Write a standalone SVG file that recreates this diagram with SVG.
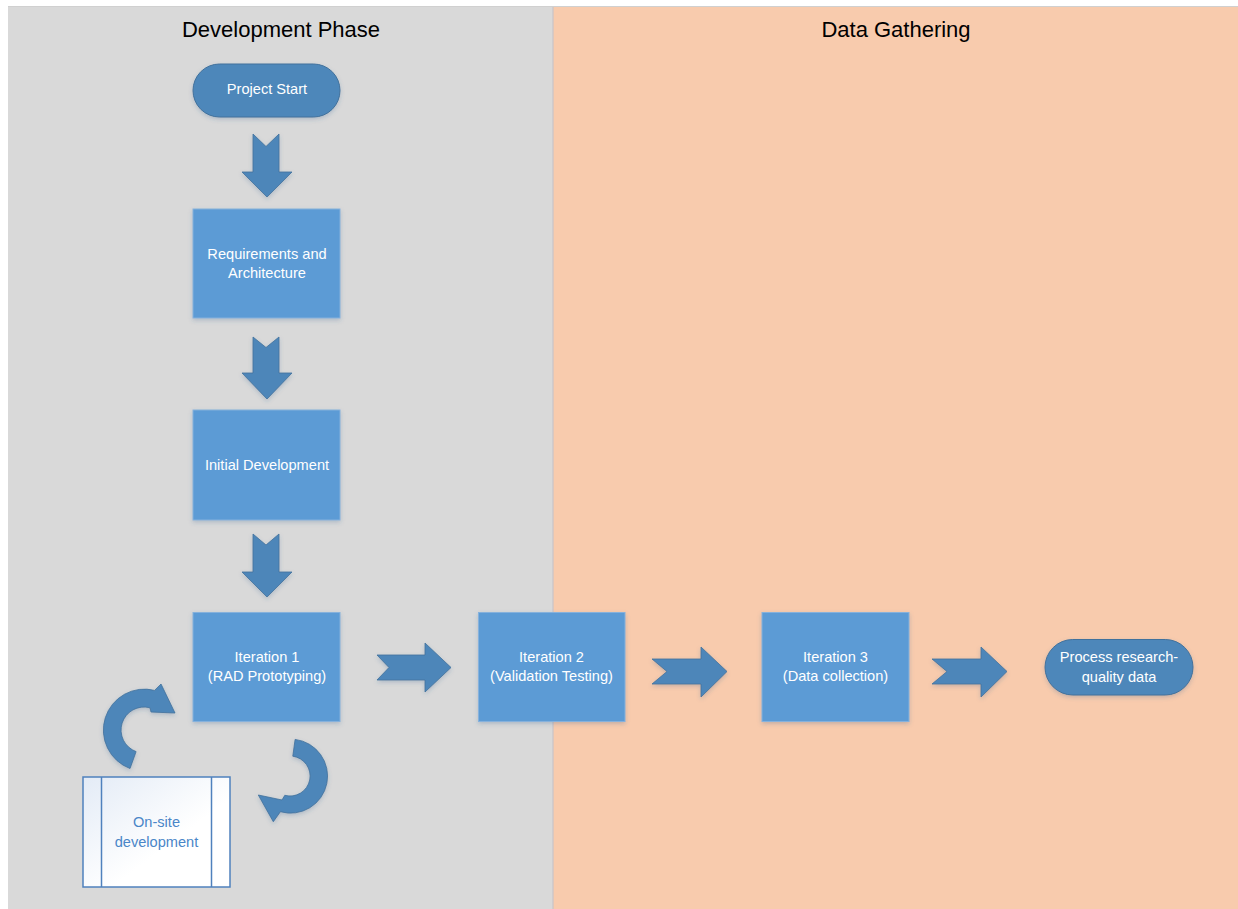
<svg xmlns="http://www.w3.org/2000/svg" width="1238" height="909" viewBox="0 0 1238 909">
<style>
.title{font-family:"Liberation Sans",Arial,sans-serif;font-size:22px;fill:#000;text-anchor:middle}
.lbl{font-family:"Liberation Sans",Arial,sans-serif;font-size:14.6px;fill:#fff;text-anchor:middle}
.lblb{font-family:"Liberation Sans",Arial,sans-serif;font-size:14.6px;fill:#4a86c8;text-anchor:middle}
.box{fill:#5b9bd5;stroke:#86b1dc;stroke-width:1;filter:url(#sh)}
.pill{fill:#4e87ba;stroke:#41719c;stroke-width:1;filter:url(#sh)}
.arr{fill:#4e86b9;stroke:#41719c;stroke-width:0.8;filter:url(#sh)}
</style>
<defs>
<filter id="sh" x="-20%" y="-20%" width="140%" height="150%">
<feDropShadow dx="0" dy="2" stdDeviation="2" flood-color="#2f5f8f" flood-opacity="0.25"/>
</filter>
<linearGradient id="og" x1="0" y1="0" x2="1" y2="1">
<stop offset="0" stop-color="#e3ebf6"/>
<stop offset="0.6" stop-color="#ffffff"/>
</linearGradient>
</defs>
<rect x="0" y="0" width="1238" height="909" fill="#ffffff"/>
<g id="lanes">
<rect x="8" y="7" width="545" height="902" fill="#d9d9d9"/>
<rect x="553" y="7" width="685" height="902" fill="#f8cbad"/>
<line x1="8" y1="6.5" x2="1238" y2="6.5" stroke="#d0d0d0" stroke-width="1"/>
<line x1="553" y1="7" x2="553" y2="909" stroke="#c8c4c8" stroke-width="1.2"/>
<text class="title" x="281" y="37">Development Phase</text>
<text class="title" x="896" y="37">Data Gathering</text>
</g>
<g id="connectors">
<path class="arr" d="M253,134 L266,146.5 L279,134 L279,172 L292,172 L267,197 L242,172 L253,172 Z"/>
<path class="arr" d="M253,337 L266,347.5 L279,337 L279,373 L292,373 L267,399 L242,373 L253,373 Z"/>
<path class="arr" d="M253,534 L266,545 L279,534 L279,572 L292,572 L267,597 L242,572 L253,572 Z"/>
<path class="arr" d="M377,655 L425,655 L425,643 L451,667.5 L425,692 L425,680 L377,680 L389,667.5 Z"/>
<path class="arr" d="M652,659 L701,659 L701,647 L727,671.5 L701,697 L701,684 L652,684 L667,671.5 Z"/>
<path class="arr" d="M932,659 L981,659 L981,647 L1007,671.5 L981,697 L981,684 L932,684 L947,671.5 Z"/>
<path class="arr" d="M130,768.5 A41,41 0 0 1 154.6,690.4 L161,684 L175,713 L151,712 L150,707.8 A23,23 0 0 0 136.1,751.6 Z"/>
<path class="arr" d="M295.1,739.4 A37,37 0 1 1 280.4,811.7 L273.3,821.7 L258.3,795 L282,800 L284.8,795.3 A20,20 0 1 0 292.8,756.2 Z"/>
</g>
<g id="project-start">
<rect class="pill" x="193" y="64" width="147" height="53" rx="26.5"/>
<text class="lbl" x="267" y="94">Project Start</text>
</g>
<g id="requirements">
<rect class="box" x="193" y="209" width="147" height="109"/>
<text class="lbl" x="267" y="259">Requirements and</text>
<text class="lbl" x="267" y="278">Architecture</text>
</g>
<g id="initial-development">
<rect class="box" x="193" y="410" width="147" height="110"/>
<text class="lbl" x="267" y="470">Initial Development</text>
</g>
<g id="iteration-1">
<rect class="box" x="193" y="612.5" width="147" height="109"/>
<text class="lbl" x="267" y="662">Iteration 1</text>
<text class="lbl" x="267" y="681">(RAD Prototyping)</text>
</g>
<g id="iteration-2">
<rect class="box" x="478.5" y="612.5" width="146.5" height="109"/>
<text class="lbl" x="551.5" y="662">Iteration 2</text>
<text class="lbl" x="551.5" y="681">(Validation Testing)</text>
</g>
<g id="iteration-3">
<rect class="box" x="762" y="612.5" width="147" height="109"/>
<text class="lbl" x="835.5" y="662">Iteration 3</text>
<text class="lbl" x="835.5" y="681">(Data collection)</text>
</g>
<g id="process-data">
<rect class="pill" x="1045" y="639.5" width="148" height="55.5" rx="27.75"/>
<text class="lbl" x="1119" y="662">Process research-</text>
<text class="lbl" x="1119" y="682">quality data</text>
</g>
<g id="on-site-development">
<rect x="83" y="777" width="147" height="110" fill="url(#og)" stroke="#4f81bd" stroke-width="1.5"/>
<line x1="101.5" y1="777" x2="101.5" y2="887" stroke="#4f81bd" stroke-width="1.5"/>
<line x1="211.5" y1="777" x2="211.5" y2="887" stroke="#4f81bd" stroke-width="1.5"/>
<text class="lblb" x="156.5" y="827">On-site</text>
<text class="lblb" x="156.5" y="847">development</text>
</g>
</svg>
